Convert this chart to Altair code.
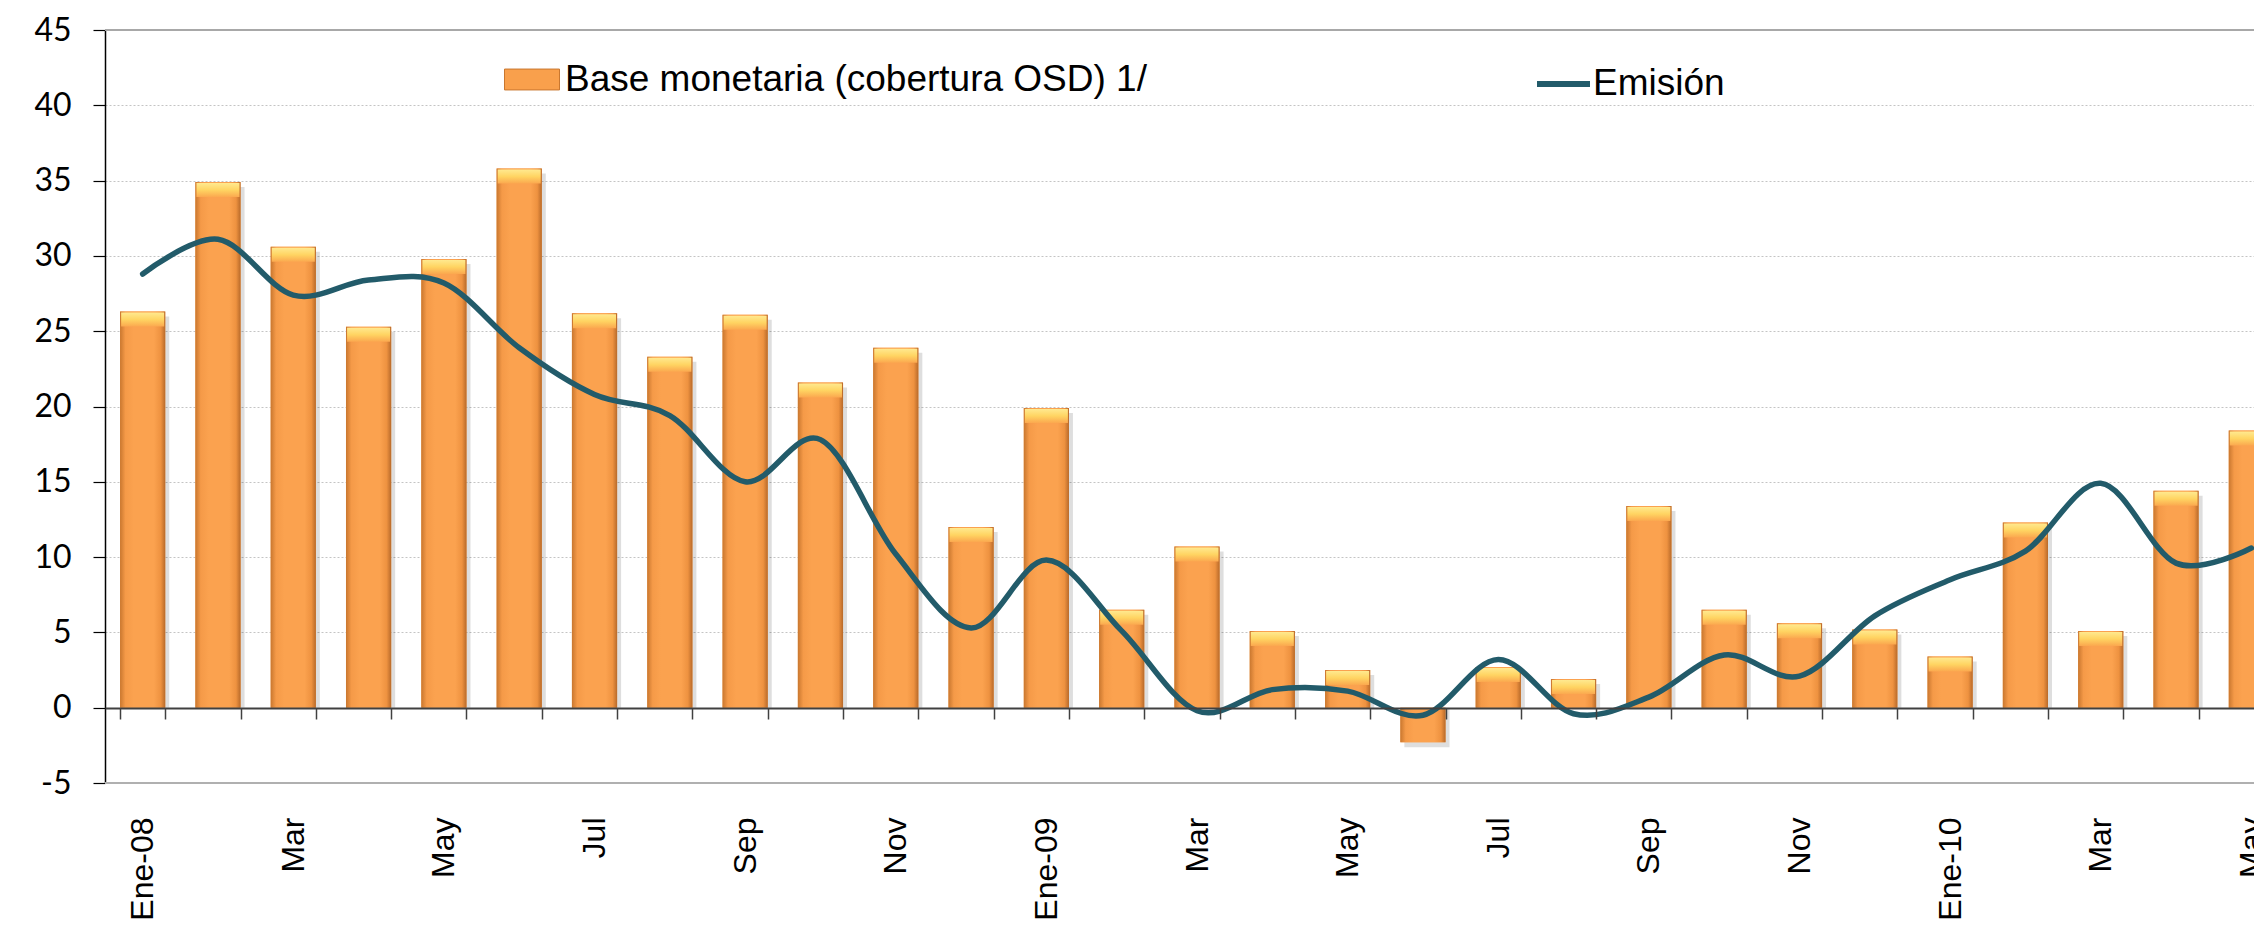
import json
import altair as alt
import pandas as pd

# ---------------- data ----------------
meses = ["2008-01", "2008-02", "2008-03", "2008-04", "2008-05", "2008-06",
         "2008-07", "2008-08", "2008-09", "2008-10", "2008-11", "2008-12",
         "2009-01", "2009-02", "2009-03", "2009-04", "2009-05", "2009-06",
         "2009-07", "2009-08", "2009-09", "2009-10", "2009-11", "2009-12",
         "2010-01", "2010-02", "2010-03", "2010-04", "2010-05"]
etiquetas = ["Ene-08", "", "Mar", "", "May", "", "Jul", "", "Sep", "", "Nov", "",
             "Ene-09", "", "Mar", "", "May", "", "Jul", "", "Sep", "", "Nov", "",
             "Ene-10", "", "Mar", "", "May"]
base_monetaria = [26.3, 34.9, 30.6, 25.3, 29.8, 35.8, 26.2, 23.3, 26.1, 21.6,
                  23.9, 12.0, 19.9, 6.5, 10.7, 5.1, 2.5, -2.3, 2.7, 1.9,
                  13.4, 6.5, 5.6, 5.2, 3.4, 12.3, 5.1, 14.4, 18.4]
emision = [28.8, 31.1, 27.4, 28.4, 28.2, 23.9, 20.8, 19.4, 15.0, 17.8,
           10.2, 5.3, 9.8, 5.1, -0.2, 1.2, 1.1, -0.5, 3.2, -0.4,
           0.7, 3.5, 2.1, 6.1, 8.5, 10.4, 14.9, 9.6, 10.6]
y_ticks = [-5, 0, 5, 10, 15, 20, 25, 30, 35, 40, 45]
serie_barras = "Base monetaria (cobertura OSD) 1/"
serie_linea = "Emisión"

df = pd.DataFrame({
    "mes": meses,
    "base": base_monetaria,
    "emision": emision,
    "sb": serie_barras,
    "sl": serie_linea,
})

# ---------------- styling ----------------
ORANGE = "#F9A04C"
TEAL = "#225B6A"
STEP_RANGE = 2184  # full band range (last bar runs past the visible edge)
PLOT_W = 2149
PLOT_H = 753

label_expr = "{}[indexof({}, datum.value)]".format(
    json.dumps(etiquetas).replace('"', "'"), json.dumps(meses).replace('"', "'"))

x_enc = alt.X(
    "mes:O", sort=meses,
    scale=alt.Scale(range=[0, STEP_RANGE], paddingInner=0.40, paddingOuter=0.20),
    axis=alt.Axis(
        title=None, offset=-75, tickBand="extent", ticks=True, tickSize=11,
        tickColor="#404040", tickWidth=1.5, domainColor="#404040", domainWidth=2,
        labelAngle=-90, labelFont="Liberation Sans", labelFontSize=32,
        labelColor="#000000", labelPadding=98, labelExpr=label_expr,
        labelOverlap=False, grid=False, zindex=1,
    ),
)

y_scale = alt.Scale(domain=[-5, 45], nice=False, zero=False)
y_enc = alt.Y(
    "base:Q", scale=y_scale,
    axis=alt.Axis(
        title=None, values=y_ticks, grid=True, gridDash=[2, 2],
        gridColor="#C4C4C4", gridWidth=1, domainColor="#000000",
        domainWidth=1.5, tickColor="#000000", tickSize=12, tickWidth=1.2,
        labelFont="Lato", labelFontSize=32, labelColor="#000000",
        labelPadding=22,
        labelExpr="datum.value < 0 ? '-' + abs(datum.value) : '' + datum.value",
    ),
)

bar_gradient = {
    "gradient": "linear", "x1": 0, "x2": 1, "y1": 0, "y2": 0,
    "stops": [
        {"offset": 0.0, "color": "#C9772F"},
        {"offset": 0.12, "color": "#F59A48"},
        {"offset": 0.3, "color": "#FBA24F"},
        {"offset": 0.75, "color": "#FBA24F"},
        {"offset": 0.9, "color": "#EE9240"},
        {"offset": 1.0, "color": "#B86A2A"},
    ],
}
cap_gradient = {
    "gradient": "linear", "x1": 0, "x2": 0, "y1": 0, "y2": 1,
    "stops": [
        {"offset": 0.0, "color": "#FFE98F"},
        {"offset": 0.5, "color": "#FFD462"},
        {"offset": 1.0, "color": "#FBA84F"},
    ],
}

base = alt.Chart(df)

# shadow
shadow = base.mark_bar(color="#000000", opacity=0.13, xOffset=4, yOffset=5).encode(
    x=x_enc, y=y_enc, y2=alt.datum(0))

# legend carrier bars
bars_legend = base.mark_bar().encode(
    x=x_enc, y=y_enc, y2=alt.datum(0),
    fill=alt.Fill("sb:N", scale=alt.Scale(range=[ORANGE]), legend=alt.Legend(
        title=None, orient="none", legendX=399, legendY=21.5, padding=0,
        symbolType="M-1,-0.38H1V0.38H-1Z", symbolSize=3025,
        symbolStrokeColor="#C9772F", symbolStrokeWidth=1,
        labelFont="Liberation Sans", labelFontSize=37, labelColor="#000000",
        labelOffset=5, labelLimit=2000)),
)

bars = base.mark_bar(color=bar_gradient).encode(x=x_enc, y=y_enc, y2=alt.datum(0))

caps = base.transform_filter("datum.base > 0").mark_tick(
    color=cap_gradient, thickness=14, size=43, yOffset=8, opacity=1
).encode(x=x_enc, y=alt.Y("base:Q", scale=y_scale))

line = base.mark_line(strokeWidth=5.5, interpolate="cardinal", strokeCap="round").encode(
    x=x_enc, y=alt.Y("emision:Q", scale=y_scale),
    stroke=alt.Stroke("sl:N", scale=alt.Scale(range=[TEAL]), legend=alt.Legend(
        title=None, orient="none", legendX=1429, legendY=24.5, padding=0,
        symbolType="stroke", symbolSize=2809, symbolStrokeWidth=6,
        labelFont="Liberation Sans", labelFontSize=37, labelColor="#000000",
        labelOffset=0, labelLimit=2000)),
)

top_rule = alt.Chart(df).mark_rule(color="#A8A8A8", strokeWidth=2).encode(
    y=alt.datum(45, scale=y_scale))
bottom_rule = alt.Chart(df).mark_rule(color="#B0B0B0", strokeWidth=2).encode(
    y=alt.datum(-5, scale=y_scale))

chart = alt.layer(
    shadow, bars_legend, bars, caps, top_rule, bottom_rule, line
).resolve_scale(fill="independent", stroke="independent").properties(
    width=PLOT_W, height=PLOT_H,
    padding={"left": 97, "top": 22, "right": 0, "bottom": 140},
    autosize=alt.AutoSizeParams(type="none"),
    background="white",
).configure_view(stroke=None)

chart.save("out.html", embed_options={"renderer": "svg", "actions": False})
